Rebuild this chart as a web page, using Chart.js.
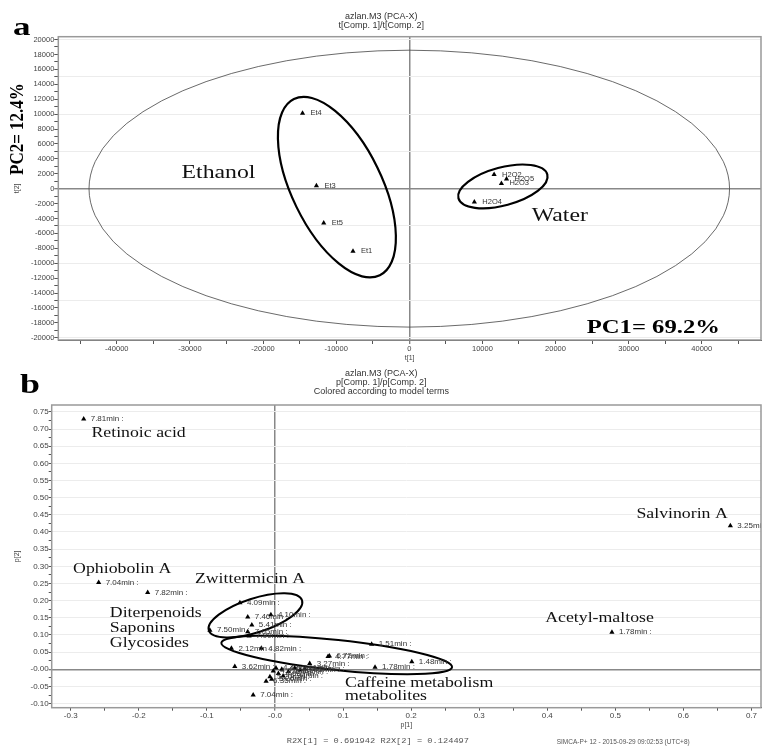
<!DOCTYPE html>
<html>
<head>
<meta charset="utf-8">
<script src="https://cdn.jsdelivr.net/npm/chart.js@4.4.1/dist/chart.umd.min.js"></script>
<style>
  html, body { margin: 0; padding: 0; background: #fff; }
  #wrap { position: relative; width: 765px; height: 747px; background: #fff; }
  #scoreChart { position: absolute; left: 0; top: 0; }
  #loadingChart { position: absolute; left: 0; top: 360px; }
</style>
</head>
<body>
<div id="wrap">
  <canvas id="scoreChart" width="765" height="365"></canvas>
  <canvas id="loadingChart" width="765" height="387"></canvas>
</div>
<script>
// ===== Panel a: scores =====
const scoreNames = ['Et4', 'Et3', 'Et5', 'Et1', 'H2O2', 'H2O5', 'H2O3', 'H2O4'];
const scoreT1 = [-14600, -12700, -11700, -7700, 11600, 13300, 12600, 8900];
const scoreT2 = [10100, 400, -4600, -8400, 1900, 1300, 700, -1800];

// ===== Panel b: loadings (retention time labels) =====
const loadingNames = [
  '7.81min :', '3.25min :', '7.04min :', '7.82min :', '4.09min :', '7.46min :', '4.10min :',
  '5.41min :', '7.50min :', '7.05min :', '7.99min :', '2.12min :', '4.82min :', '1.51min :',
  '4.77min :', '6.72min :', '3.27min :', '1.78min :', '1.48min :', '3.62min :', '7.04min :',
  '1.78min :', '4.51min :', '5.20min :', '5.26min :', '6.35min :', '4.99min :', '4.60min :',
  '6.90min :', '2.61min :', '3.05min :', '5.94min :', '4.43min :', '2.98min :'
];
const loadingP1 = [
  -0.281, 0.669, -0.259, -0.187, -0.0515, -0.040, -0.006,
  -0.034, -0.0956, -0.040, -0.038, -0.064, -0.020, 0.142,
  0.078, 0.080, 0.051, 0.147, 0.201, -0.059, -0.032,
  0.495, -0.0025, -0.0074, -0.0049, -0.013, 0.005, 0.010,
  0.0196, 0.029, 0.037, 0.012, 0.0015, 0.044
];
const loadingP2 = [
  0.729, 0.418, 0.253, 0.224, 0.194, 0.152, 0.159,
  0.129, 0.114, 0.109, 0.097, 0.061, 0.061, 0.073,
  0.037, 0.039, 0.017, 0.006, 0.022, 0.008, -0.075,
  0.108, -0.005, -0.0215, -0.029, -0.035, -0.012, 0.000,
  -0.007, 0.004, -0.002, -0.0195, 0.004, 0.001
];

// ===== Tick positions for panel a =====
const scoreXTicks = [];
for (let v = -45000; v <= 45000; v += 5000) scoreXTicks.push(v);
const scoreYTicks = [];
for (let v = -20000; v <= 20000; v += 1000) scoreYTicks.push(v);

// ===== Group annotations (anchored in data units) =====
const groupLabelsA = [
  { text: 'Ethanol', x: -31150, y: 1420 },
  { text: 'Water', x: 16750, y: -4350 }
];
const groupLabelsB = [
  { text: 'Retinoic acid', x: -0.2696, y: 0.6756 },
  { text: 'Salvinorin A', x: 0.531, y: 0.4415 },
  { text: 'Ophiobolin A', x: -0.2966, y: 0.2796 },
  { text: 'Zwittermicin A', x: -0.1176, y: 0.2504 },
  { text: 'Diterpenoids', x: -0.2426, y: 0.1514 },
  { text: 'Saponins', x: -0.2426, y: 0.1077 },
  { text: 'Glycosides', x: -0.2426, y: 0.0641 },
  { text: 'Acetyl-maltose', x: 0.397, y: 0.1369 },
  { text: 'Caffeine metabolism', x: 0.1029, y: -0.0507 },
  { text: 'metabolites', x: 0.1029, y: -0.0894 }
];

const SANS = 'Liberation Sans, Arial, sans-serif';
const SERIF = 'Liberation Serif, Times New Roman, serif';
const MONO = 'Liberation Mono, Courier New, monospace';

// draw text squeezed/stretched horizontally (figure was resized non-uniformly)
function stretchText(ctx, text, x, y, font, sx, color, rotate, sy) {
    ctx.save();
    ctx.font = font;
    ctx.fillStyle = color;
    ctx.textBaseline = 'alphabetic';
    ctx.textAlign = 'left';
    ctx.translate(x, y);
    if (rotate) ctx.rotate(rotate);
    ctx.scale(sx, sy || 1);
    ctx.fillText(text, 0, 0);
    ctx.restore();
}

// ===== Overlay plugin: ellipses, point labels, annotations, frame =====
const overlayPlugin = {
    id: 'overlay',
    beforeDatasetsDraw(chart, args, opts) {
        const { ctx, chartArea: ca, scales: { x, y } } = chart;
        ctx.save();
        ctx.beginPath();
        ctx.rect(ca.left, ca.top, ca.width, ca.height);
        ctx.clip();
        (opts.ellipses || []).forEach(e => {
            const cx = x.getPixelForValue(e.cx), cy = y.getPixelForValue(e.cy);
            let rx = e.rx, ry = e.ry;
            if (e.dataUnits) {
                rx = Math.abs(x.getPixelForValue(e.cx + e.rx) - cx);
                ry = Math.abs(y.getPixelForValue(e.cy + e.ry) - cy);
            }
            ctx.beginPath();
            ctx.ellipse(cx, cy, rx, ry, (e.angle || 0) * Math.PI / 180, 0, Math.PI * 2);
            ctx.lineWidth = e.width;
            ctx.strokeStyle = e.color;
            ctx.stroke();
        });
        ctx.restore();
    },
    afterDatasetsDraw(chart, args, opts) {
        const { ctx, chartArea: ca, scales: { x, y } } = chart;
        ctx.save();
        ctx.beginPath();
        ctx.rect(ca.left, ca.top, ca.width, ca.height);
        ctx.clip();
        ctx.font = opts.pointFont;
        ctx.fillStyle = '#333';
        ctx.textBaseline = 'middle';
        chart.data.datasets.forEach((ds, di) => {
            const meta = chart.getDatasetMeta(di);
            meta.data.forEach((pt, i) => {
                ctx.fillText(ds.labels[i], pt.x + opts.labelOffset, pt.y);
            });
        });
        ctx.restore();
        (opts.groups || []).forEach(g => {
            stretchText(ctx, g.text, x.getPixelForValue(g.x), y.getPixelForValue(g.y),
                opts.groupFont, opts.groupStretch, '#111');
        });
    },
    afterDraw(chart, args, opts) {
        const { ctx, chartArea: ca } = chart;
        ctx.save();
        ctx.strokeStyle = '#999';
        ctx.lineWidth = 1.5;
        ctx.strokeRect(ca.left, ca.top, ca.width, ca.height);
        ctx.restore();
        (opts.texts || []).forEach(t => {
            stretchText(ctx, t.text, t.x, t.y, t.font, t.sx, t.color || '#000', t.rotate, t.sy);
        });
    }
};

function gridColor(step) {
    return c => {
        if (!c.tick) return 'rgba(0,0,0,0)';
        const v = c.tick.value;
        if (Math.abs(v) < 1e-9) return '#888';
        if (step && Math.abs(Math.round(v / step) * step - v) < step * 1e-6) return '#ececec';
        return 'rgba(0,0,0,0)';
    };
}
function gridWidth(c) {
    return c.tick && Math.abs(c.tick.value) < 1e-9 ? 1.5 : 1;
}

const tickFont = { family: SANS, size: 7.5 };
const axisTitleFont = { family: SANS, size: 7 };

// ===== Chart a: score plot =====
new Chart(document.getElementById('scoreChart'), {
    type: 'scatter',
    data: {
        datasets: [{
            data: scoreT1.map((v, i) => ({ x: v, y: scoreT2[i] })),
            labels: scoreNames,
            pointStyle: 'triangle',
            radius: 3,
            backgroundColor: '#000',
            borderColor: '#000',
            borderWidth: 0
        }]
    },
    options: {
        responsive: false,
        animation: false,
        events: [],
        layout: { padding: { top: 12.5, left: 0, right: 2.3, bottom: 0 } },
        plugins: {
            legend: { display: false },
            tooltip: { enabled: false },
            title: {
                display: true,
                text: ['azlan.M3 (PCA-X)', 't[Comp. 1]/t[Comp. 2]'],
                font: { family: SANS, size: 9, weight: 'normal', lineHeight: 1 },
                color: '#333',
                padding: { top: 0, bottom: 6.2 }
            },
            overlay: {
                pointFont: '7.5px ' + SANS,
                labelOffset: 8,
                groupFont: '18px ' + SERIF,
                groupStretch: 1.32,
                groups: groupLabelsA,
                ellipses: [
                    { cx: 0, cy: 0, rx: 43800, ry: 18570, dataUnits: true, width: 0.8, color: '#444' },
                    { cx: -9900, cy: 200, rx: 98, ry: 45, angle: 64, width: 2.2, color: '#000' },
                    { cx: 12800, cy: 300, rx: 46, ry: 19, angle: -15, width: 2.2, color: '#000' }
                ],
                texts: [
                    { text: 'a', x: 13, y: 35, font: 'bold 26px ' + SERIF, sx: 1.35 },
                    { text: 'PC1= 69.2%', x: 586.7, y: 333.3, font: 'bold 18px ' + SERIF, sx: 1.37 },
                    { text: 'PC2= 12.4%', x: 22.7, y: 175, font: 'bold 17px ' + SERIF, sx: 1, sy: 1.15, rotate: -Math.PI / 2 }
                ]
            }
        },
        scales: {
            x: {
                type: 'linear',
                min: -48000,
                max: 48100,
                afterFit: s => { s.height = 25; },
                afterBuildTicks: s => { s.ticks = scoreXTicks.map(v => ({ value: v })); },
                ticks: {
                    autoSkip: false, maxRotation: 0,
                    padding: 0, font: tickFont, color: '#444',
                    callback: v => (v % 10000 === 0 ? String(v) : '')
                },
                grid: { color: gridColor(0), lineWidth: gridWidth, tickLength: 4, tickColor: '#555', tickWidth: 1 },
                border: { color: '#444', width: 1 },
                title: { display: true, text: 't[1]', font: axisTitleFont, color: '#444', padding: { top: 0, bottom: 3.1 } }
            },
            y: {
                type: 'linear',
                min: -20300,
                max: 20380,
                afterFit: s => { s.width = 58.3; },
                afterBuildTicks: s => { s.ticks = scoreYTicks.map(v => ({ value: v })); },
                ticks: {
                    autoSkip: false,
                    padding: 0, font: tickFont, color: '#444',
                    callback: v => (v % 2000 === 0 ? String(v) : '')
                },
                grid: { color: gridColor(5000), lineWidth: gridWidth, tickLength: 4, tickColor: '#555', tickWidth: 1 },
                border: { color: '#444', width: 1 },
                title: { display: true, text: 't[2]', font: axisTitleFont, color: '#444', padding: { top: 12.8, bottom: 0 } }
            }
        }
    },
    plugins: [overlayPlugin]
});

// ===== Chart b: loading plot =====
new Chart(document.getElementById('loadingChart'), {
    type: 'scatter',
    data: {
        datasets: [{
            data: loadingP1.map((v, i) => ({ x: v, y: loadingP2[i] })),
            labels: loadingNames,
            pointStyle: 'triangle',
            radius: 3,
            backgroundColor: '#000',
            borderColor: '#000',
            borderWidth: 0
        }]
    },
    options: {
        responsive: false,
        animation: false,
        events: [],
        layout: { padding: { top: 9.5, left: 0, right: 2.3, bottom: 14.3 } },
        plugins: {
            legend: { display: false },
            tooltip: { enabled: false },
            title: {
                display: true,
                text: ['azlan.M3 (PCA-X)', 'p[Comp. 1]/p[Comp. 2]', 'Colored according to model terms'],
                font: { family: SANS, size: 9, weight: 'normal', lineHeight: 1 },
                color: '#333',
                padding: { top: 0, bottom: 8.5 }
            },
            overlay: {
                pointFont: '8px ' + SANS,
                labelOffset: 7,
                groupFont: '14px ' + SERIF,
                groupStretch: 1.27,
                groups: groupLabelsB,
                ellipses: [
                    { cx: -0.0287, cy: 0.157, rx: 49, ry: 17, angle: -18, width: 2, color: '#000' },
                    { cx: 0.0907, cy: 0.0416, rx: 116, ry: 15, angle: 6, width: 2, color: '#000' }
                ],
                texts: [
                    { text: 'b', x: 20, y: 33.3, font: 'bold 27px ' + SERIF, sx: 1.33 },
                    { text: 'R2X[1] = 0.691942 R2X[2] = 0.124497', x: 286.7, y: 383, font: '7px ' + MONO, sx: 1.24, color: '#555' },
                    { text: 'SIMCA-P+ 12 - 2015-09-29 09:02:53 (UTC+8)', x: 556.7, y: 384, font: '6.5px ' + SANS, sx: 1, color: '#555' }
                ]
            }
        },
        scales: {
            x: {
                type: 'linear',
                min: -0.328,
                max: 0.714,
                afterFit: s => { s.height = 25; },
                ticks: {
                    stepSize: 0.05, autoSkip: false, includeBounds: false, maxRotation: 0,
                    padding: 0.5, font: { family: SANS, size: 8 }, color: '#444',
                    callback: v => {
                        if (Math.abs(Math.round(v * 100)) % 10 !== 0) return '';
                        return Math.abs(v) < 1e-9 ? '-0.0' : v.toFixed(1);
                    }
                },
                grid: { color: gridColor(0), lineWidth: gridWidth, tickLength: 3, tickColor: '#555', tickWidth: 1 },
                border: { color: '#444', width: 1 },
                title: { display: true, text: 'p[1]', font: axisTitleFont, color: '#444', padding: { top: 0, bottom: 3.5 } }
            },
            y: {
                type: 'linear',
                min: -0.112,
                max: 0.770,
                afterFit: s => { s.width = 51.7; },
                ticks: {
                    stepSize: 0.025, autoSkip: false, includeBounds: false,
                    padding: 0, font: { family: SANS, size: 8 }, color: '#444',
                    callback: v => {
                        if (Math.abs(Math.round(v * 1000)) % 50 !== 0) return '';
                        return Math.abs(v) < 1e-9 ? '-0.00' : v.toFixed(2);
                    }
                },
                grid: { color: gridColor(0.05), lineWidth: gridWidth, tickLength: 3, tickColor: '#555', tickWidth: 1 },
                border: { color: '#444', width: 1 },
                title: { display: true, text: 'p[2]', font: axisTitleFont, color: '#444', padding: { top: 12.8, bottom: 0 } }
            }
        }
    },
    plugins: [overlayPlugin]
});
</script>
</body>
</html>
